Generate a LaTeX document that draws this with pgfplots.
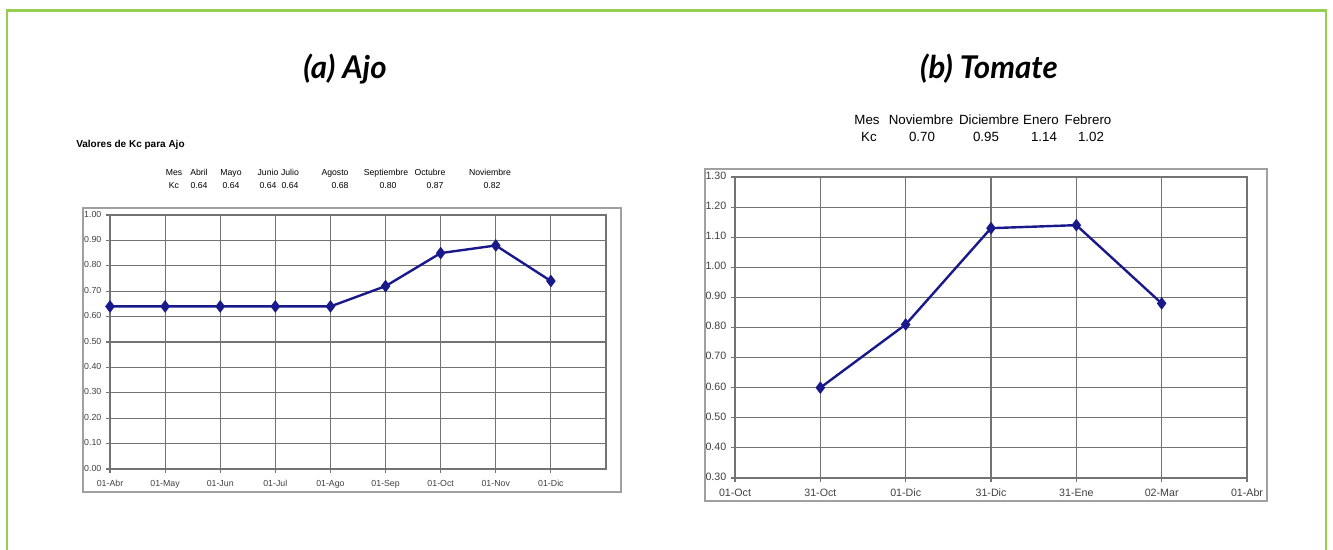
\documentclass[border=0pt]{standalone}
\usepackage{pgfplots}
\pgfplotsset{compat=1.18}
\usepackage{fontspec}
\setmainfont{Liberation Sans}
\newfontfamily\lato{Lato}
\definecolor{brd}{RGB}{150,206,80}
\definecolor{navyl}{RGB}{25,25,140}
\definecolor{gridc}{RGB}{115,115,115}
\definecolor{boxc}{RGB}{160,160,160}
\pgfplotsset{
  kcaxis/.style={
    scale only axis,
    anchor=south west,
    axis line style={gridc, line width=0.9pt},
    grid=major,
    grid style={gridc, line width=0.8pt},
    tick align=outside,
    tick pos=left,
    major tick length=3pt,
    tick style={gridc, line width=0.8pt},
    /pgf/number format/assume math mode=true,
    typeset ticklabels with strut,
    yticklabel style={/pgf/number format/.cd, fixed, fixed zerofill, precision=2},
    clip=false,
  },
  kcline/.style={navyl, line width=1.8pt, mark=diamond*, mark size=3.3pt, mark options={navyl, solid}},
}
\begin{document}
\begin{tikzpicture}
\path[use as bounding box] (0,0) rectangle (999.75pt,411.75pt);
% green frame
\draw[brd, line width=1.9pt] (5.4pt,-3pt) -- (5.4pt,404pt) -- (994.5pt,404pt) -- (994.5pt,-3pt);
% titles
\node[font=\lato\bfseries\itshape\fontsize{23.5}{28}\selectfont] at (258.75pt,360pt) {(a) Ajo};
\node[font=\lato\bfseries\itshape\fontsize{23.5}{28}\selectfont] at (741.75pt,360pt) {(b) Tomate};

% ---------------- left panel ----------------
\node[anchor=west, font=\bfseries\fontsize{7.5}{9}\selectfont, inner sep=0pt] at (57pt,303pt) {Valores de Kc para Ajo};
\begin{scope}[every node/.style={font=\fontsize{6.5}{8}\selectfont, inner sep=0pt, anchor=base}]
\node at (130.5pt,280.1pt) {Mes};
\node at (149.25pt,280.1pt) {Abril};
\node at (173.25pt,280.1pt) {Mayo};
\node at (201pt,280.1pt) {Junio};
\node at (217.5pt,280.1pt) {Julio};
\node at (251.25pt,280.1pt) {Agosto};
\node at (289.5pt,280.1pt) {Septiembre};
\node at (322.5pt,280.1pt) {Octubre};
\node at (367.5pt,280.1pt) {Noviembre};
\node at (130.5pt,270.4pt) {Kc};
\node at (149.25pt,270.4pt) {0.64};
\node at (173.25pt,270.4pt) {0.64};
\node at (201pt,270.4pt) {0.64};
\node at (217.5pt,270.4pt) {0.64};
\node at (255pt,270.4pt) {0.68};
\node at (291pt,270.4pt) {0.80};
\node at (326.25pt,270.4pt) {0.87};
\node at (369pt,270.4pt) {0.82};
\end{scope}
\draw[boxc, line width=1.4pt] (62.25pt,42.75pt) rectangle (465.75pt,255.75pt);
\begin{axis}[kcaxis,
  at={(82.5pt,60pt)},
  width=372pt, height=190.5pt,
  xmin=0, xmax=9, ymin=0, ymax=1,
  xtick={0,1,2,3,4,5,6,7,8},
  xticklabels={01-Abr,01-May,01-Jun,01-Jul,01-Ago,01-Sep,01-Oct,01-Nov,01-Dic},
  ytick={0,0.1,0.2,0.3,0.4,0.5,0.6,0.7,0.8,0.9,1.0},
  ticklabel style={font=\fontsize{6.6}{8}\selectfont, text=black!75},
  xticklabel style={yshift=-1pt},
]
\addplot[kcline] coordinates {(0,0.64) (1,0.64) (2,0.64) (3,0.64) (4,0.64) (5,0.72) (6,0.85) (7,0.88) (8,0.74)};
\end{axis}

% ---------------- right panel ----------------
\begin{scope}[every node/.style={font=\fontsize{10}{12}\selectfont, inner sep=0pt, anchor=base}]
\node at (650.25pt,318.4pt) {Mes};
\node at (690.75pt,318.4pt) {Noviembre};
\node at (741.75pt,318.4pt) {Diciembre};
\node at (780.75pt,318.4pt) {Enero};
\node at (816pt,318.4pt) {Febrero};
\node at (651.75pt,305.6pt) {Kc};
\node at (691.5pt,305.6pt) {0.70};
\node at (739.5pt,305.6pt) {0.95};
\node at (783pt,305.6pt) {1.14};
\node at (818.25pt,305.6pt) {1.02};
\end{scope}
\draw[boxc, line width=1.4pt] (528.75pt,36pt) rectangle (950.25pt,285pt);
\begin{axis}[kcaxis,
  at={(551.25pt,53.25pt)},
  width=384pt, height=225.75pt,
  xmin=0, xmax=6, ymin=0.3, ymax=1.3,
  xtick={0,1,2,3,4,5,6},
  xticklabels={01-Oct,31-Oct,01-Dic,31-Dic,31-Ene,02-Mar,01-Abr},
  ytick={0.3,0.4,0.5,0.6,0.7,0.8,0.9,1.0,1.1,1.2,1.3},
  ticklabel style={font=\fontsize{8}{9}\selectfont, text=black!75},
  xticklabel style={yshift=-1pt},
]
\addplot[kcline] coordinates {(1,0.60) (2,0.81) (3,1.13) (4,1.14) (5,0.88)};
\end{axis}
\end{tikzpicture}
\end{document}
